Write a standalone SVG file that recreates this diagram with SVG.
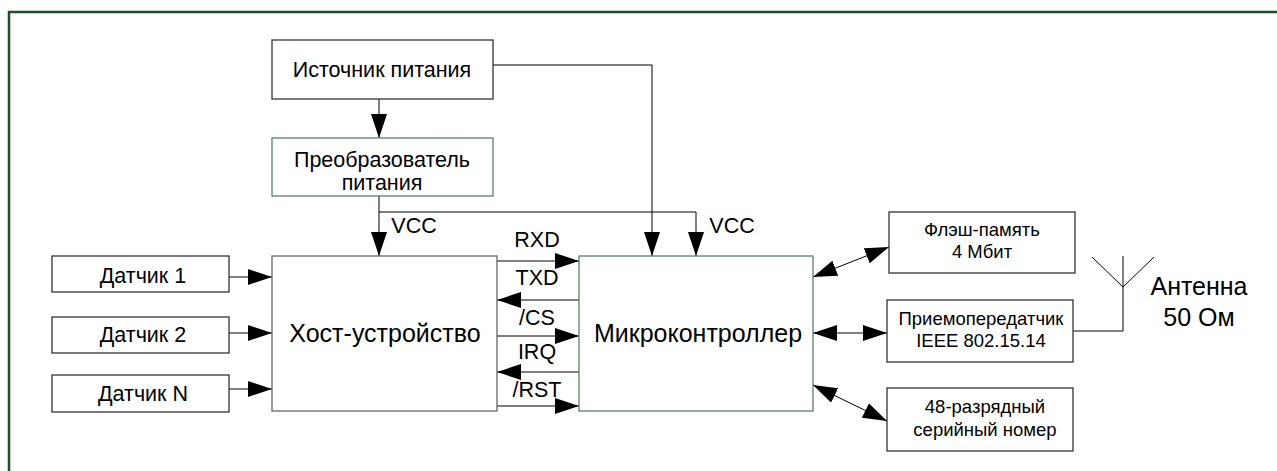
<svg xmlns="http://www.w3.org/2000/svg" width="1277" height="471" viewBox="0 0 1277 471">
<style>
text{font-family:"Liberation Sans",Arial,sans-serif;fill:#000;text-anchor:middle}
.box{fill:#fff;stroke:#333;stroke-width:1.3}
.gbox{fill:#fff;stroke:#5b806a;stroke-width:1.3}
.ln{fill:none;stroke:#000;stroke-width:1}
.t20{font-size:21.5px}
.t24{font-size:25px}
.t16{font-size:18.5px}
.t22{font-size:25px}
</style>
<defs>
<marker id="ah" viewBox="0 0 24 16" refX="24" refY="8" markerWidth="24" markerHeight="16" markerUnits="userSpaceOnUse" orient="auto-start-reverse">
<path d="M0,0 L24,8 L0,16 z" fill="#000"/>
</marker>
</defs>
<rect width="1277" height="471" fill="#fff"/>
<path d="M9,471 L9,12 L1277,12" fill="none" stroke="#1f4d2c" stroke-width="2.5"/>

<g id="connectors">
<line class="ln" x1="379" y1="99" x2="379" y2="138" marker-end="url(#ah)"/>
<line class="ln" x1="379" y1="196" x2="379" y2="256" marker-end="url(#ah)"/>
<path class="ln" d="M493,65 L652,65 L652,256" marker-end="url(#ah)"/>
<path class="ln" d="M379,212 L696,212 L696,256" marker-end="url(#ah)"/>
<line class="ln" x1="229" y1="277" x2="272" y2="277" marker-end="url(#ah)"/>
<line class="ln" x1="229" y1="333" x2="272" y2="333" marker-end="url(#ah)"/>
<line class="ln" x1="229" y1="389" x2="272" y2="389" marker-end="url(#ah)"/>
<line class="ln" x1="497" y1="261" x2="579" y2="261" marker-end="url(#ah)"/>
<line class="ln" x1="579" y1="300" x2="497" y2="300" marker-end="url(#ah)"/>
<line class="ln" x1="497" y1="336" x2="579" y2="336" marker-end="url(#ah)"/>
<line class="ln" x1="579" y1="372" x2="497" y2="372" marker-end="url(#ah)"/>
<line class="ln" x1="497" y1="406" x2="579" y2="406" marker-end="url(#ah)"/>
<line class="ln" x1="813" y1="277" x2="889" y2="247" marker-start="url(#ah)" marker-end="url(#ah)"/>
<line class="ln" x1="813" y1="333" x2="887" y2="333" marker-start="url(#ah)" marker-end="url(#ah)"/>
<line class="ln" x1="813" y1="385" x2="887" y2="421" marker-start="url(#ah)" marker-end="url(#ah)"/>
<path class="ln" d="M1073,331 L1123,331 L1123,256 M1092,257 L1123,287 L1154,257"/>
<text class="t20" x="732" y="233">VCC</text>
<text class="t20" x="414" y="233">VCC</text>
<text class="t20" x="537" y="247">RXD</text>
<text class="t20" x="537" y="285">TXD</text>
<text class="t20" x="537" y="325">/CS</text>
<text class="t20" x="537" y="359">IRQ</text>
<text class="t20" x="537" y="397">/RST</text>
</g>

<g id="source">
<rect class="box" x="272" y="40" width="221" height="59"/>
<text class="t20" x="382" y="77">Источник питания</text>
</g>
<g id="converter">
<rect class="gbox" x="272" y="138" width="221" height="58"/>
<text class="t20" x="382" y="167">Преобразователь</text>
<text class="t20" x="382" y="190">питания</text>
</g>
<g id="sensor1">
<rect class="box" x="52" y="256" width="177" height="36"/>
<text class="t20" x="143" y="283">Датчик 1</text>
</g>
<g id="sensor2">
<rect class="box" x="52" y="317" width="177" height="36"/>
<text class="t20" x="143" y="342">Датчик 2</text>
</g>
<g id="sensorN">
<rect class="box" x="52" y="375" width="177" height="37"/>
<text class="t20" x="143" y="401">Датчик N</text>
</g>
<g id="host">
<rect class="box" x="272" y="256" width="225" height="155" style="stroke:#666"/>
<text class="t24" x="385" y="342">Хост-устройство</text>
</g>
<g id="mcu">
<rect class="gbox" x="579" y="256" width="234" height="155"/>
<text class="t24" x="698" y="342">Микроконтроллер</text>
</g>
<g id="flash">
<rect class="box" x="889" y="212" width="186" height="61"/>
<text class="t16" x="982" y="236">Флэш-память</text>
<text class="t16" x="982" y="258">4 Мбит</text>
</g>
<g id="transceiver">
<rect class="box" x="887" y="300" width="186" height="62"/>
<text class="t16" x="981" y="325">Приемопередатчик</text>
<text class="t16" x="981" y="347">IEEE 802.15.14</text>
</g>
<g id="serial">
<rect class="box" x="887" y="388" width="186" height="63"/>
<text class="t16" x="985" y="413">48-разрядный</text>
<text class="t16" x="985" y="436">серийный номер</text>
</g>
<g id="antenna">
<text class="t22" x="1199" y="295">Антенна</text>
<text class="t22" x="1199" y="326">50 Ом</text>
</g>
</svg>
